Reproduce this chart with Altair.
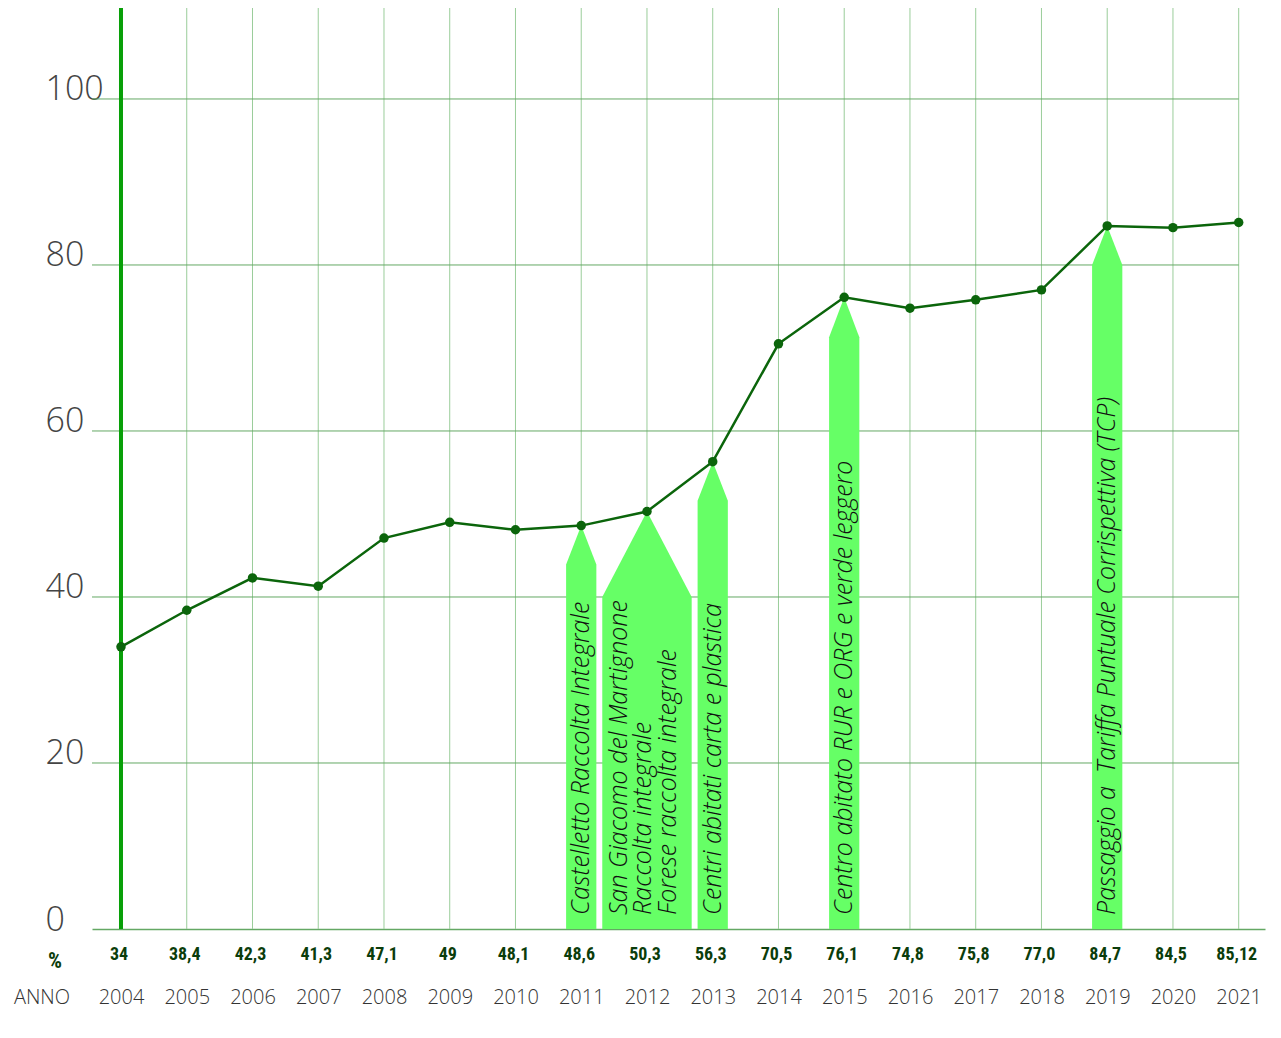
import altair as alt
import pandas as pd

years = list(range(2004, 2022))
values = [34, 38.4, 42.3, 41.3, 47.1, 49, 48.1, 48.6, 50.3, 56.3, 70.5, 76.1,
          74.8, 75.8, 77.0, 84.7, 84.5, 85.12]
value_labels = ["34", "38,4", "42,3", "41,3", "47,1", "49", "48,1", "48,6", "50,3",
                "56,3", "70,5", "76,1", "74,8", "75,8", "77,0", "84,7", "84,5", "85,12"]
y_ticks = [0, 20, 40, 60, 80, 100]

arrow_years = [2011, 2012, 2013, 2015, 2019]
arrow_shoulders = [43.9, 40.0, 51.6, 71.3, 80.0]
arrow_halfwidths = [0.23, 0.68, 0.23, 0.23, 0.23]
single_ann_years = [2011, 2013, 2015, 2019]
single_ann_texts = [
    "Castelletto Raccolta Integrale",
    "Centri abitati carta e plastica",
    "Centro abitato RUR e ORG e verde leggero",
    "Passaggio a\u00a0 Tariffa Puntuale Corrispettiva (TCP)",
]
multi_ann_years = [2012]
multi_ann_texts = ["San Giacomo del Martignone\nRaccolta integrale\nForese raccolta integrale"]

X0, X1 = 2003.559, 2021.40
Y1 = 110.96
W, H = 1173, 921

LIGHT = "Open Sans"
NARROW = "Liberation Sans Narrow, Roboto Condensed, Open Sans"

df = pd.DataFrame({"year": years, "value": values, "label": value_labels})
xs = alt.Scale(domain=[X0, X1], nice=False, zero=False)
ys = alt.Scale(domain=[0, Y1], nice=False, zero=False)

XAX = alt.Axis(values=years, format="d", title=None, grid=False, tickSize=0,
               labelPadding=68, labelBaseline="middle", labelFont=LIGHT,
               labelFontWeight=300, labelFontSize=20, labelColor="#333333",
               labelFlush=False, labelOverlap=False,
               domain=True, domainColor="#64a864", domainWidth=1.5)
YAX = alt.Axis(values=y_ticks, title=None, grid=False, tickSize=0, domain=False,
               labelAlign="left", labelBaseline="alphabetic", labelPadding=47,
               labelFont=LIGHT, labelFontWeight=300, labelFontSize=34,
               labelColor="#444444", labelOffset=1, labelFlush=False)

# arrow polygons (pentagons drawn as areas down to zero)
rows = []
tip_of = dict(zip(years, values))
for i, (yr, sh, hw) in enumerate(zip(arrow_years, arrow_shoulders, arrow_halfwidths)):
    rows.append({"arrow": i, "x": yr - hw, "y": sh})
    rows.append({"arrow": i, "x": yr, "y": tip_of[yr]})
    rows.append({"arrow": i, "x": yr + hw, "y": sh})
arrows_df = pd.DataFrame(rows)
ann1_df = pd.DataFrame({"year": single_ann_years, "text": single_ann_texts,
                        "base": [1.7] * len(single_ann_years)})
ann2_df = pd.DataFrame({"year": multi_ann_years, "text": multi_ann_texts,
                        "base": [1.7] * len(multi_ann_years)})

vgrid = alt.Chart(pd.DataFrame({"year": years[1:]})).mark_rule(
    color="#9acd9a", strokeWidth=1
).encode(x=alt.X("year:Q", scale=xs, axis=XAX))

hgrid = alt.Chart(pd.DataFrame({"v": y_ticks[1:], "x0": [X0] * 5, "x1": [2021] * 5})).mark_rule(
    color="#64a864", strokeWidth=1
).encode(
    x=alt.X("x0:Q", scale=xs, axis=XAX), x2="x1:Q",
    y=alt.Y("v:Q", scale=ys, axis=YAX),
)

arrows = alt.Chart(arrows_df).mark_area(color="#66ff66", opacity=1, interpolate="linear").encode(
    x=alt.X("x:Q", scale=xs, axis=XAX),
    y=alt.Y("y:Q", scale=ys, stack=None, axis=YAX),
    detail="arrow:N",
)

thick = alt.Chart(pd.DataFrame({"year": [years[0]]})).mark_rule(
    color="#08a008", strokeWidth=4
).encode(x=alt.X("year:Q", scale=xs, axis=XAX))

ann_style = dict(angle=270, align="left", baseline="middle", font=LIGHT, fontStyle="italic",
                 fontWeight=300, fontSize=25, color="#111111")
ann1 = alt.Chart(ann1_df).mark_text(**ann_style).encode(
    x=alt.X("year:Q", scale=xs, axis=XAX),
    y=alt.Y("base:Q", scale=ys, axis=YAX),
    text="text:N",
)
ann2 = alt.Chart(ann2_df).mark_text(lineBreak="\n", lineHeight=24.5, dy=-28, **ann_style).encode(
    x=alt.X("year:Q", scale=xs, axis=XAX),
    y=alt.Y("base:Q", scale=ys, axis=YAX),
    text="text:N",
)

line = alt.Chart(df).mark_line(color="#0b650b", strokeWidth=2.5).encode(
    x=alt.X("year:Q", scale=xs, axis=XAX),
    y=alt.Y("value:Q", scale=ys, axis=YAX),
)

pts = alt.Chart(df).mark_circle(color="#0b650b", size=90, opacity=1).encode(
    x=alt.X("year:Q", scale=xs, axis=XAX), y=alt.Y("value:Q", scale=ys, axis=YAX)
)

vals = alt.Chart(df).mark_text(
    font=NARROW, fontWeight="bold", fontSize=18, color="#0b3d0b", baseline="middle", dx=-2
).encode(x=alt.X("year:Q", scale=xs, axis=XAX), y=alt.value(947), text="label:N")

pct = alt.Chart(pd.DataFrame({"t": ["%"]})).mark_text(
    font=NARROW, fontWeight="bold", fontSize=22, color="#0b3d0b", baseline="middle"
).encode(x=alt.value(-37), y=alt.value(953), text="t:N")

anno = alt.Chart(pd.DataFrame({"t": ["ANNO"]})).mark_text(
    font=LIGHT, fontWeight=300, fontSize=20, color="#333333", baseline="middle"
).encode(x=alt.value(-50), y=alt.value(990), text="t:N")

chart = alt.layer(vgrid, hgrid, arrows, thick, ann1, ann2, line, pts, vals, pct, anno).properties(
    width=W, height=H,
    autosize=alt.AutoSizeParams(type="none"),
    padding={"left": 84, "top": 0, "right": 8, "bottom": 100},
).configure_view(stroke=None)

chart.save("out.html", embed_options={"renderer": "svg", "actions": False})
